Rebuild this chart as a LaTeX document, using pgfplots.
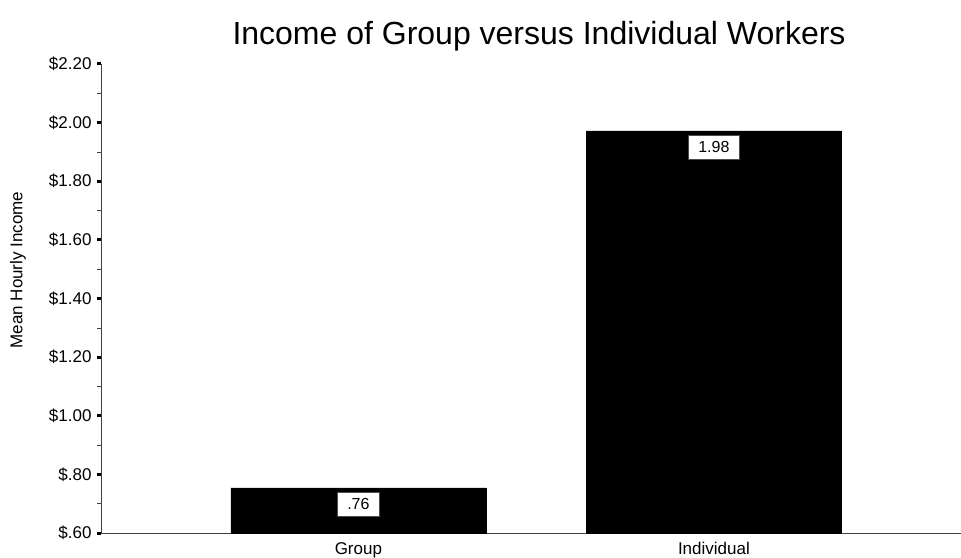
\documentclass[border=0pt]{standalone}
\usepackage{fontspec}
\setmainfont{Liberation Sans}
\usepackage{pgfplots}
\pgfplotsset{compat=1.18}
\begin{document}
\begin{tikzpicture}
\begin{axis}[
  scale only axis, width=860pt, height=469pt,
  ybar, bar width=255pt,
  xmin=-0.724, xmax=1.695, ymin=0.6, ymax=2.2,
  xtick={0,1}, xticklabels={Group,Individual},
  ytick={0.6,0.8,1.0,1.2,1.4,1.6,1.8,2.0,2.2},
  yticklabels={\$.60,\$.80,\$1.00,\$1.20,\$1.40,\$1.60,\$1.80,\$2.00,\$2.20},
  minor y tick num=1,
  axis x line=bottom, axis y line=left,
  axis line style={-, black!75, line width=0.8pt},
  tick align=outside,
  x tick style={draw=none},
  major tick length=4pt, minor tick length=4pt,
  major tick style={line width=3pt, black},
  minor tick style={line width=0.6pt, black!75},
  ticklabel style={font=\fontsize{17}{20}\selectfont},
  yticklabel style={xshift=-2pt},
  xticklabel style={text height=12.5pt, text depth=3.5pt, yshift=-1pt},
  /pgf/number format/assume math mode=true,
  nodes near coords,
  point meta=explicit symbolic,
  every node near coord/.append style={anchor=center, yshift=-16pt, fill=white, draw=black!70, line width=0.6pt, inner xsep=10pt, inner ysep=6pt, text height=12pt, text depth=0pt, font=\fontsize{16}{19}\selectfont, text=black},
]
\addplot[fill=black, draw=black] coordinates {(0,0.754) [.76] (1,1.972) [1.98]};
\coordinate (o) at (rel axis cs:0,0);
\end{axis}
\node[anchor=base, font=\fontsize{32}{38}\selectfont] at ([shift={(438pt,488pt)}]o) {Income of Group versus Individual Workers};
\node[rotate=90, font=\fontsize{17}{20}\selectfont] at ([shift={(-83pt,263pt)}]o) {Mean Hourly Income};
\pgfresetboundingbox
\path (o) ++(-101pt,-24pt) rectangle ++(961pt,557pt);
\end{tikzpicture}
\end{document}
